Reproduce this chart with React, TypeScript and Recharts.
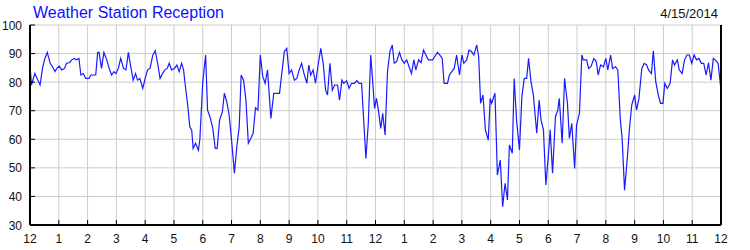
import React from 'react';
import { LineChart, Line, XAxis, YAxis, CartesianGrid } from 'recharts';

// minutes since midnight
const times: number[] = [
  0, 3, 10, 21, 26, 31, 36, 42, 47, 52,
  56, 61, 66, 72, 76, 82, 87, 92, 97, 102,
  106, 111, 116, 123, 127, 137, 141, 144, 149, 154,
  160, 165, 170, 175, 179, 184, 189, 195, 200, 205,
  210, 215, 220, 224, 229, 235, 240, 245, 250, 256,
  261, 266, 271, 276, 281, 286, 290, 295, 301, 306,
  311, 316, 320, 324, 329, 333, 337, 340, 345, 351,
  354, 360, 366, 370, 375, 381, 386, 390, 395, 401,
  405, 410, 415, 420, 426, 431, 436, 440, 445, 450,
  455, 460, 465, 470, 475, 480,
  485, 490, 495, 502, 508, 520, 524, 530, 535, 540,
  545, 551, 556, 561, 566, 571, 577, 581, 585, 590,
  595, 601, 606, 611, 616, 620, 625, 630, 635, 641,
  645, 650, 654, 660, 665, 670, 676, 681, 686, 691,
  695, 700, 705, 710, 714, 718, 722, 726, 731, 735,
  740, 745, 750, 755, 759, 764, 770, 775, 780, 785,
  790, 795, 800, 804, 810, 815, 820, 825, 830, 839,
  849, 854, 859, 863, 870, 874, 879, 884, 889, 895,
  900, 904, 910, 915, 920, 925, 931, 935, 939, 944,
  949, 955, 959,
  962, 969, 974, 980, 985, 990, 995, 999, 1005, 1009,
  1014, 1020, 1025, 1030, 1035, 1039, 1044, 1049, 1056, 1061,
  1065, 1070, 1075, 1080, 1084, 1089, 1095, 1100, 1103, 1109,
  1114, 1120, 1124, 1129, 1135, 1139, 1145, 1150, 1153, 1160,
  1164, 1169, 1175, 1180, 1184, 1189, 1195, 1200, 1204, 1210,
  1214, 1220, 1225, 1230, 1234, 1239, 1245, 1249, 1254, 1260,
  1264, 1269, 1275, 1280, 1285, 1289, 1295, 1299, 1304, 1310,
  1314, 1319, 1323, 1328, 1334, 1339, 1343, 1349, 1353, 1359,
  1364, 1369, 1374, 1379, 1384, 1389, 1394, 1399, 1404, 1409,
  1414, 1419, 1424, 1428, 1434, 1440,
];

// reception %
const reception: number[] = [
  86, 79, 83, 79, 84.8, 88.3, 90.4, 86.6, 85.4, 83.7,
  84.8, 85.6, 84.3, 84.8, 86.6, 86.8, 87.8, 88.3, 87.8, 88.3,
  82.5, 83, 81.3, 81.3, 82.5, 82.5, 90.4, 90.4, 84.8, 90.4,
  87.8, 84.8, 82.5, 83.7, 83, 84.8, 88.3, 84.8, 84.3, 90.4,
  85.4, 80.7, 83, 80.7, 81.3, 77.8, 81.3, 84.3, 84.8, 89.5,
  91, 86.6, 81.3, 83, 84.3, 84.8, 86.6, 84.3, 84.8, 86,
  83.7, 86.6, 84.3, 78.4, 71.4, 64.4, 63.2, 56.8, 58.6, 56.2,
  60, 80, 89.5, 70.2, 67.9, 63.8, 56.8, 56.8, 66.7, 69.7,
  76.1, 73.2, 68.5, 59.8, 48.1, 57.4, 64.4, 82.5, 80.7, 73.7,
  58.6, 60.3, 62.1, 71, 70.2, 89.5,
  82, 79.6, 84.3, 67.3, 76.1, 76.1, 82, 90.7, 91.8, 83,
  84.3, 80.7, 81.3, 84.3, 86.6, 83, 79.6, 86, 82.5, 84.3,
  79.6, 86.6, 91.8, 86.6, 77.2, 75.5, 86.6, 77.2, 79, 79,
  73.7, 80.7, 79.6, 80.5, 77.8, 79.6, 79.6, 80.5, 79.6, 79.6,
  67.9, 53.3, 65.6, 89.5, 80.7, 70.8, 74.3, 70.2, 63.8, 69.1,
  61.5, 83.7, 90.7, 93, 86.6, 87.2, 90.4, 87.8, 86.6, 87.8,
  85.4, 83, 87.8, 84.3, 87.8, 86.8, 91.2, 89.5, 87.8, 87.8,
  90.4, 89.5, 88.3, 79.6, 79.6, 82.5, 83.7, 84.8, 89.5, 82.5,
  89.5, 86.6, 87.8, 91.2, 90.7, 89.5, 93, 88.9, 72.6, 75.5,
  63.3, 59.7, 74.3,
  72.6, 76.1, 47.5, 52.7, 36.4, 44.6, 38.8, 58, 55.1, 81.3,
  66.7, 56.3, 74.9, 81.3, 81.3, 88.3, 80.2, 75.5, 62.1, 73.7,
  66.7, 63.3, 44, 53.9, 63.3, 48.1, 67.9, 70.2, 74.3, 58.6,
  81.3, 72.6, 60.3, 65.6, 49.8, 65, 69.1, 89.5, 87.8, 87.8,
  84.8, 85.4, 88.3, 87.2, 82.5, 86, 85.4, 88.3, 84.3, 89.5,
  84.8, 85.4, 84.3, 67.3, 60.3, 42.2, 53.9, 63.3, 72, 75.5,
  70.2, 74.3, 84.8, 86.6, 86, 84.3, 83, 91, 80.2, 74.9,
  72.6, 72.6, 79.6, 77.8, 79.6, 87.8, 86, 87.8, 84.3, 83,
  87.8, 89.5, 89.5, 86.6, 89.5, 87.8, 88.3, 86.6, 86.6, 82.5,
  86.8, 80.7, 88.3, 87.8, 86.6, 77.2,
];

const hourTicks: number[] = [
  0, 60, 120, 180, 240, 300, 360, 420, 480, 540, 600, 660, 720,
  780, 840, 900, 960, 1020, 1080, 1140, 1200, 1260, 1320, 1380, 1440,
];
const hourLabels: string[] = [
  '12', '1', '2', '3', '4', '5', '6', '7', '8', '9', '10', '11', '12',
  '1', '2', '3', '4', '5', '6', '7', '8', '9', '10', '11', '12',
];
const yTicks: number[] = [30, 40, 50, 60, 70, 80, 90, 100];

const title = 'Weather Station Reception';
const dateLabel = '4/15/2014';

const data = times.map((t, i) => ({ t, v: reception[i] }));

const FONT = "'Liberation Sans', Arial, sans-serif";
const TICK_LEN = 5;

const BottomTick = (props: any) => {
  const { x, y, payload, index } = props;
  return (
    <g>
      <line x1={x} x2={x} y1={y} y2={y - TICK_LEN} stroke="#000" strokeWidth={1} />
      <text x={x} y={y + 18} textAnchor="middle" fontSize={12} fontFamily={FONT} fill="#111">
        {hourLabels[index] ?? ''}
      </text>
    </g>
  );
};

const TopTick = (props: any) => {
  const { x, y } = props;
  return <line x1={x} x2={x} y1={y} y2={y + TICK_LEN} stroke="#000" strokeWidth={1} />;
};

const LeftTick = (props: any) => {
  const { x, y, payload } = props;
  return (
    <g>
      <line x1={x + 8} x2={x + 8 + TICK_LEN} y1={y} y2={y} stroke="#000" strokeWidth={1} />
      <text x={x} y={y + 4.5} textAnchor="end" fontSize={12} fontFamily={FONT} fill="#111">
        {payload.value}
      </text>
    </g>
  );
};

const RightTick = (props: any) => {
  const { x, y, payload } = props;
  return (
    <g>
      <line x1={x - 7} x2={x - 7 - TICK_LEN} y1={y} y2={y} stroke="#000" strokeWidth={1} />
      <text x={x} y={y + 4.5} textAnchor="start" fontSize={12} fontFamily={FONT} fill="#111">
        {payload.value}
      </text>
    </g>
  );
};

export default function App() {
  return (
    <div style={{ position: 'absolute', left: 0, top: 0, width: 750, height: 250, background: '#fff' }}>
      <LineChart
        width={750}
        height={250}
        data={data}
        margin={{ top: 25, right: 0, bottom: 0, left: 0 }}
      >
        <CartesianGrid stroke="#cccccc" strokeWidth={1} />
        <XAxis
          dataKey="t"
          type="number"
          domain={[0, 1440]}
          ticks={hourTicks}
          interval={0}
          height={25}
          tickSize={0}
          tickMargin={0}
          tickLine={false}
          axisLine={{ stroke: '#000', strokeWidth: 2 }}
          tick={<BottomTick />}
        />
        <XAxis
          xAxisId="top"
          orientation="top"
          type="number"
          domain={[0, 1440]}
          ticks={hourTicks}
          interval={0}
          height={0}
          tickSize={0}
          tickMargin={0}
          tickLine={false}
          axisLine={{ stroke: '#000', strokeWidth: 2 }}
          tick={<TopTick />}
        />
        <YAxis
          type="number"
          domain={[30, 100]}
          ticks={yTicks}
          interval={0}
          width={30}
          tickSize={0}
          tickMargin={8}
          tickLine={false}
          axisLine={{ stroke: '#000', strokeWidth: 2 }}
          tick={<LeftTick />}
        />
        <YAxis
          yAxisId="right"
          orientation="right"
          type="number"
          domain={[30, 100]}
          ticks={yTicks}
          interval={0}
          width={29}
          tickSize={0}
          tickMargin={7}
          tickLine={false}
          axisLine={{ stroke: '#000', strokeWidth: 2 }}
          tick={<RightTick />}
        />
        <Line
          type="linear"
          dataKey="v"
          stroke="#1a1aff"
          strokeWidth={1.2}
          dot={false}
          isAnimationActive={false}
        />
      </LineChart>
      <svg
        width={750}
        height={25}
        style={{ position: 'absolute', left: 0, top: 0, pointerEvents: 'none' }}
      >
        <text x={33} y={17.5} fontSize={16} fontFamily={FONT} fill="#1010ff">
          {title}
        </text>
        <text x={718} y={17.5} fontSize={13} fontFamily={FONT} fill="#111" textAnchor="end">
          {dateLabel}
        </text>
      </svg>
    </div>
  );
}
